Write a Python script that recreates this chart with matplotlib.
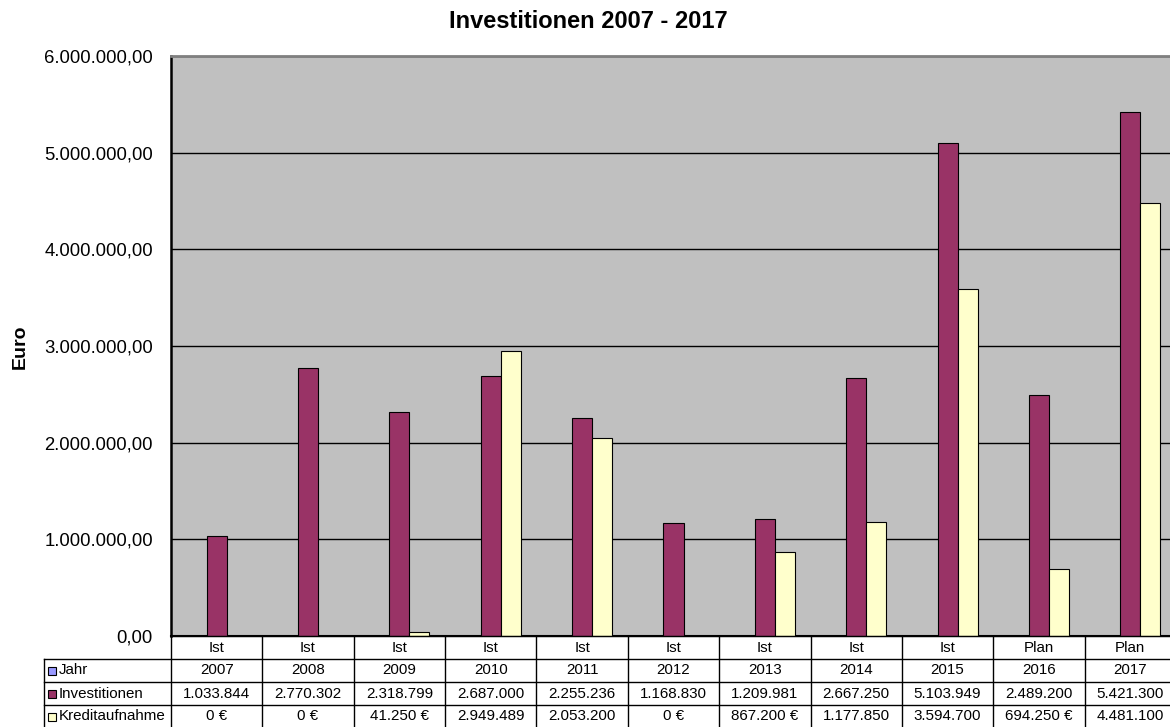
import numpy as np
import matplotlib
matplotlib.use('Agg')
import matplotlib.pyplot as plt
from matplotlib.ticker import FuncFormatter

plt.rcParams['font.family'] = ['Liberation Sans', 'DejaVu Sans']

# data
status = ['Ist', 'Ist', 'Ist', 'Ist', 'Ist', 'Ist', 'Ist', 'Ist', 'Ist', 'Plan', 'Plan']
jahr = [2007, 2008, 2009, 2010, 2011, 2012, 2013, 2014, 2015, 2016, 2017]
invest = [1033844, 2770302, 2318799, 2687000, 2255236, 1168830,
          1209981, 2667250, 5103949, 2489200, 5421300]
kredit = [0, 0, 41250, 2949489, 2053200, 0, 867200, 1177850, 3594700, 694250, 4481100]
kredit_labels = ['0 €', '0 €', '41.250 €', '2.949.489', '2.053.200', '0 €',
                 '867.200 €', '1.177.850', '3.594.700', '694.250 €', '4.481.100']
series_names = ['Jahr', 'Investitionen', 'Kreditaufnahme']
series_colors = ['#9999FF', '#993366', '#FFFFCC']

W, H = 1170, 727
fig = plt.figure(figsize=(W / 100, H / 100), dpi=100)

# plot area (runs past the right edge like the original)
left, right, top, bottom = 171, 1176, 56, 636
ax = fig.add_axes([left / W, (H - bottom) / H, (right - left) / W, (bottom - top) / H])
ax.set_facecolor('#C0C0C0')

x = np.arange(len(jahr))
bw = 0.219
for k, vals in enumerate([jahr, invest, kredit]):
    ax.bar(x + (k - 1) * bw, vals, bw, color=series_colors[k],
           edgecolor='black', linewidth=0.8, zorder=3)

ax.set_xlim(-0.5, len(jahr) - 0.5)
ax.set_ylim(0, 6000000)
ax.set_yticks(np.arange(0, 6000001, 1000000))
ax.yaxis.set_major_formatter(FuncFormatter(
    lambda v, p: f'{v:,.2f}'.replace(',', 'X').replace('.', ',').replace('X', '.')))
ax.tick_params(axis='y', length=0, pad=13, labelsize=13.3)
ax.set_xticks([])
ax.yaxis.grid(True, color='black', linewidth=1.0, zorder=1)
ax.set_axisbelow(True)
ax.spines['top'].set_color('#808080')
ax.spines['top'].set_linewidth(2)
ax.spines['left'].set_linewidth(1.8)
ax.spines['bottom'].set_linewidth(1.5)
ax.spines['right'].set_visible(False)

fig.text(588 / W, 1 - 21 / H, 'Investitionen 2007 - 2017', ha='center', va='center',
         fontsize=17, fontweight='bold')
fig.text(20 / W, 1 - 347 / H, 'Euro', ha='center', va='center', rotation=90,
         fontsize=14, fontweight='bold')

# data table below the plot
unit = (right - left) / len(jahr)
lab_w = (left - 44) / unit
tax = fig.add_axes([44 / W, (H - 728) / H, (right - 44) / W, 92 / H])
xl = -0.5 - lab_w
xr = len(jahr) - 0.5
tax.set_xlim(xl, xr)
tax.set_ylim(4, 0)
tax.axis('off')

lc = dict(color='black', linewidth=1.0, clip_on=False)
tax.plot([-0.5, xr], [0, 0], **lc)
for r in range(1, 5):
    tax.plot([xl, xr], [r, r], **lc)
tax.plot([xl, xl], [1, 4], **lc)
for i in range(len(jahr) + 1):
    tax.plot([i - 0.5, i - 0.5], [0, 4], **lc)

rows = [status, [str(j) for j in jahr],
        [f'{v:,}'.replace(',', '.') for v in invest], kredit_labels]
for r, row in enumerate(rows):
    for i, txt in enumerate(row):
        tax.text(i, r + 0.5, txt, ha='center', va='center', fontsize=10.9)

for k, name in enumerate(series_names):
    tax.plot([xl + 8 / unit], [k + 1.5], marker='s', markersize=5.5,
             markerfacecolor=series_colors[k], markeredgecolor='black',
             markeredgewidth=0.8, clip_on=False)
    tax.text(xl + 15 / unit, k + 1.5, name, ha='left', va='center', fontsize=10.9)

fig.savefig('out.png', dpi=100)
